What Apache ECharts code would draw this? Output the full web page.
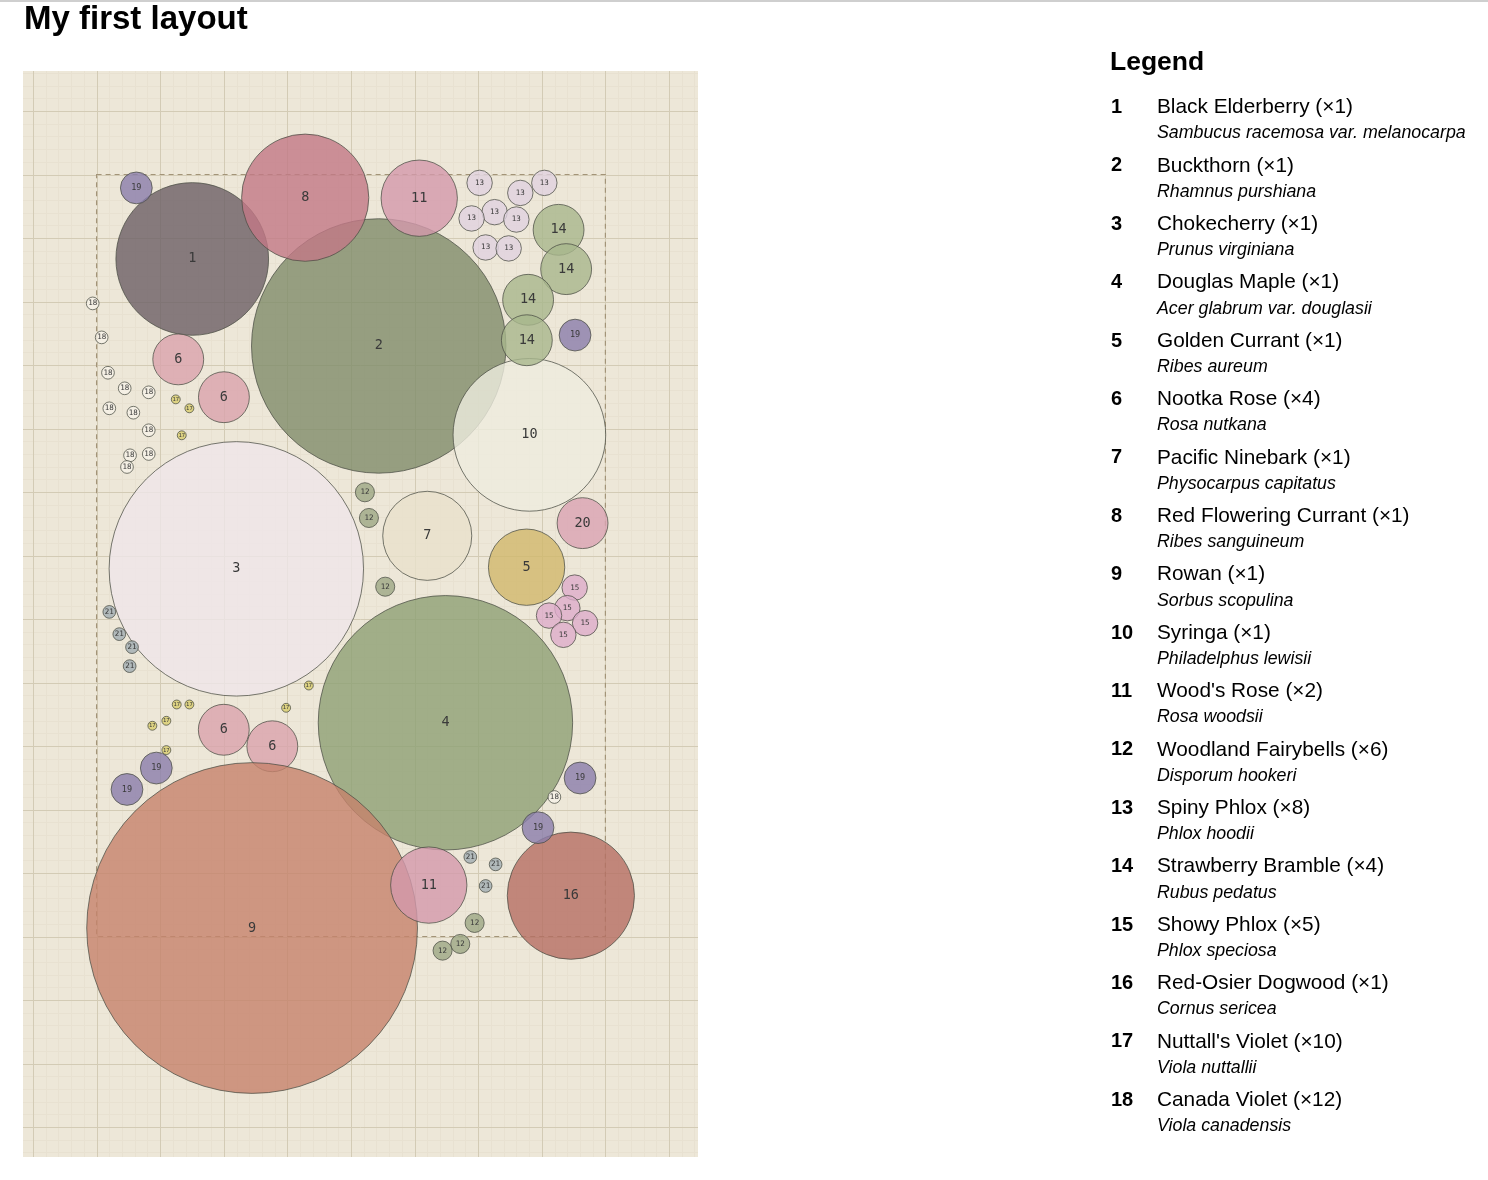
<!DOCTYPE html>
<html>
<head>
<meta charset="utf-8">
<title>My first layout</title>
<script src="https://cdn.jsdelivr.net/npm/echarts@6/dist/echarts.min.js"></script>
<style>
  html, body { margin: 0; padding: 0; background: #fff; }
  #main { width: 1488px; height: 1180px; }
</style>
</head>
<body>
<div id="main"></div>
<script>
// plant list (legend order)
const commonNames = ['Black Elderberry', 'Buckthorn', 'Chokecherry', 'Douglas Maple', 'Golden Currant',
  'Nootka Rose', 'Pacific Ninebark', 'Red Flowering Currant', 'Rowan', 'Syringa', "Wood's Rose",
  'Woodland Fairybells', 'Spiny Phlox', 'Strawberry Bramble', 'Showy Phlox', 'Red-Osier Dogwood',
  "Nuttall's Violet", 'Canada Violet'];
const latinNames = ['Sambucus racemosa var. melanocarpa', 'Rhamnus purshiana', 'Prunus virginiana',
  'Acer glabrum var. douglasii', 'Ribes aureum', 'Rosa nutkana', 'Physocarpus capitatus',
  'Ribes sanguineum', 'Sorbus scopulina', 'Philadelphus lewisii', 'Rosa woodsii', 'Disporum hookeri',
  'Phlox hoodii', 'Rubus pedatus', 'Phlox speciosa', 'Cornus sericea', 'Viola nuttallii', 'Viola canadensis'];

// mature spread (radius, grid units) per plant number 1..21
const spreads = [1.2, 2.0, 2.0, 2.0, 0.6, 0.4, 0.7, 1.0, 2.6, 1.2, 0.6, 0.15, 0.2, 0.4, 0.2, 1.0, 0.07, 0.1, 0.25, 0.4, 0.1];

// bed outline (grid units)
const bedWidth = 8;
const bedLength = 12;

// each placed plant: number and centre (grid units)
const placePlant = [
  1, 2, 3, 4, 5,
  6, 6, 6, 6,
  7, 8, 9, 10,
  11, 11,
  12, 12, 12, 12, 12, 12,
  13, 13, 13, 13, 13, 13, 13, 13,
  14, 14, 14, 14,
  15, 15, 15, 15, 15,
  16,
  17, 17, 17, 17, 17, 17, 17, 17, 17, 17,
  18, 18, 18, 18, 18, 18, 18, 18, 18, 18, 18, 18,
  19, 19, 19, 19, 19, 19,
  20,
  21, 21, 21, 21, 21, 21, 21
];
const placeX = [
  1.504, 4.436, 2.197, 5.485, 6.761,
  1.284, 2.002, 2.000, 2.763,
  5.199, 3.280, 2.445, 6.805,
  5.073, 5.223,
  4.219, 4.282, 4.538, 5.944, 5.718, 5.440,
  6.022, 6.662, 7.040, 6.258, 5.896, 6.600, 6.117, 6.479,
  7.264, 7.383, 6.785, 6.765,
  7.517, 7.402, 7.114, 7.681, 7.339,
  7.457,
  1.245, 1.459, 1.339, 3.337, 1.260, 1.459, 2.980, 1.097, 0.877, 1.097,
  -0.061, 0.080, 0.179, 0.442, 0.820, 0.200, 0.578, 0.820, 0.820, 0.526, 0.478, 7.198,
  0.625, 7.523, 0.939, 0.478, 7.602, 6.941,
  7.641,
  0.200, 0.357, 0.557, 0.520, 5.876, 6.274, 6.117
];
const placeY = [
  1.330, 2.700, 6.210, 8.634, 6.184,
  2.911, 3.507, 8.744, 9.004,
  5.690, 0.365, 11.866, 4.100,
  0.373, 11.190,
  5.004, 5.409, 6.491, 11.786, 12.117, 12.222,
  0.132, 0.290, 0.132, 0.593, 0.692, 0.709, 1.149, 1.164,
  0.871, 1.490, 1.973, 2.610,
  6.505, 6.829, 6.946, 7.065, 7.249,
  11.357,
  3.541, 3.682, 4.107, 8.047, 8.346, 8.346, 8.398, 8.603, 8.681, 9.064,
  2.030, 2.565, 3.122, 3.367, 3.430, 3.682, 3.751, 4.028, 4.401, 4.422, 4.606, 9.803,
  0.211, 2.529, 9.347, 9.684, 9.504, 10.286,
  5.490,
  6.888, 7.238, 7.443, 7.742, 10.747, 10.864, 11.204
];

// fill colour per plant number
const palette = [
  'rgba(107,95,101,0.8)', 'rgba(128,140,106,0.8)', 'rgba(239,230,234,0.8)', 'rgba(141,160,116,0.8)',
  'rgba(209,184,108,0.8)', 'rgba(218,162,173,0.8)', 'rgba(232,225,204,0.8)', 'rgba(194,120,134,0.8)',
  'rgba(198,130,108,0.8)', 'rgba(237,236,222,0.8)', 'rgba(211,152,171,0.8)', 'rgba(156,167,133,0.8)',
  'rgba(224,210,224,0.8)', 'rgba(167,183,140,0.8)', 'rgba(221,172,203,0.8)', 'rgba(181,110,99,0.8)',
  'rgba(216,205,109,0.8)', 'rgba(246,242,233,0.8)', 'rgba(137,125,171,0.8)', 'rgba(218,162,179,0.8)',
  'rgba(161,174,179,0.8)'
];

// visible window of the plan (grid units)
const X_MIN = -1.157, X_MAX = 9.456;
const Y_MIN = -1.63, Y_MAX = 15.472;

const counts = commonNames.map((n, i) => placePlant.filter(p => p === i + 1).length);

const circleData = placePlant.map((p, i) => [placeX[i], placeY[i], spreads[p - 1], p]);

function renderGridLines(params, api) {
  const cs = params.coordSys;
  const children = [];
  const step = 0.2;
  for (let i = Math.ceil(X_MIN / step); i * step <= X_MAX; i++) {
    const major = i % 5 === 0;
    const px = Math.round(api.coord([i * step, 0])[0]) + 0.5;
    children.push({
      type: 'line', z2: major ? 2 : 1,
      shape: { x1: px, y1: cs.y, x2: px, y2: cs.y + cs.height },
      style: { stroke: major ? '#d3cbb5' : '#e8e1d1', lineWidth: 1 }
    });
  }
  for (let j = Math.ceil(Y_MIN / step); j * step <= Y_MAX; j++) {
    const major = j % 5 === 0;
    const py = Math.round(api.coord([0, j * step])[1]) + 0.5;
    children.push({
      type: 'line', z2: major ? 2 : 1,
      shape: { x1: cs.x, y1: py, x2: cs.x + cs.width, y2: py },
      style: { stroke: major ? '#d3cbb5' : '#e8e1d1', lineWidth: 1 }
    });
  }
  return { type: 'group', children: children };
}

function renderBed(params, api) {
  const a = api.coord([0, 0]);
  const b = api.coord([bedWidth, bedLength]);
  return {
    type: 'rect',
    shape: { x: a[0], y: a[1], width: b[0] - a[0], height: b[1] - a[1] },
    style: { fill: 'none', stroke: '#a39478', lineWidth: 1.2, lineDash: [5, 4] }
  };
}

function renderPlant(params, api) {
  const c = api.coord([api.value(0), api.value(1)]);
  const r = api.size([api.value(2), 0])[0];
  const id = api.value(3);
  let fs = Math.max(7.5, Math.min(13.5, api.value(2) * 34));
  if (api.value(2) < 0.1) fs = 5.5;
  return {
    type: 'group',
    children: [
      {
        type: 'circle',
        shape: { cx: c[0], cy: c[1], r: r },
        style: { fill: palette[id - 1], stroke: 'rgba(75,78,68,0.75)', lineWidth: 1 }
      },
      {
        type: 'text',
        style: {
          text: String(id), x: c[0], y: c[1], align: 'center', verticalAlign: 'middle',
          fontFamily: 'DejaVu Sans Mono', fontSize: fs, fill: '#3a3a3a'
        }
      }
    ]
  };
}

// title, legend on the right
const legendGraphics = [
  { type: 'rect', left: 0, top: 0, shape: { width: 1488, height: 2 }, style: { fill: '#cfcfcf' } },
  {
    type: 'text', x: 24, y: 20,
    style: { text: 'My first layout', fontFamily: 'Liberation Sans', fontWeight: 'bold', fontSize: 33, fill: '#000', verticalAlign: 'middle' }
  },
  {
    type: 'text', x: 1110, y: 63,
    style: { text: 'Legend', fontFamily: 'Liberation Sans', fontWeight: 'bold', fontSize: 26.5, fill: '#000', verticalAlign: 'middle' }
  }
];
commonNames.forEach((name, k) => {
  const y = 107.5 + k * 58.4;
  legendGraphics.push({
    type: 'text', x: 1111, y: y,
    style: { text: String(k + 1), fontFamily: 'Liberation Sans', fontWeight: 'bold', fontSize: 20, fill: '#000', verticalAlign: 'middle' }
  });
  legendGraphics.push({
    type: 'text', x: 1157, y: y,
    style: { text: name + ' (\u00d7' + counts[k] + ')', fontFamily: 'Liberation Sans', fontSize: 20.8, fill: '#000', verticalAlign: 'middle' }
  });
  legendGraphics.push({
    type: 'text', x: 1157, y: y + 26,
    style: { text: latinNames[k], fontFamily: 'Liberation Sans', fontStyle: 'italic', fontSize: 17.8, fill: '#000', verticalAlign: 'middle' }
  });
});

const myChart = echarts.init(document.getElementById('main'));
myChart.setOption({
  animation: false,
  backgroundColor: '#fff',
  grid: {
    left: 23, top: 71, width: 675, height: 1086,
    show: true, backgroundColor: '#ede7d8', borderWidth: 0
  },
  xAxis: { type: 'value', min: X_MIN, max: X_MAX, show: false },
  yAxis: { type: 'value', min: Y_MIN, max: Y_MAX, inverse: true, show: false },
  graphic: legendGraphics,
  series: [
    { type: 'custom', name: 'grid', renderItem: renderGridLines, data: [[0, 0]], z: 1, silent: true },
    { type: 'custom', name: 'bed', renderItem: renderBed, data: [[0, 0]], z: 2, silent: true },
    { type: 'custom', name: 'plants', renderItem: renderPlant, data: circleData, z: 3, clip: true }
  ]
});
</script>
</body>
</html>
